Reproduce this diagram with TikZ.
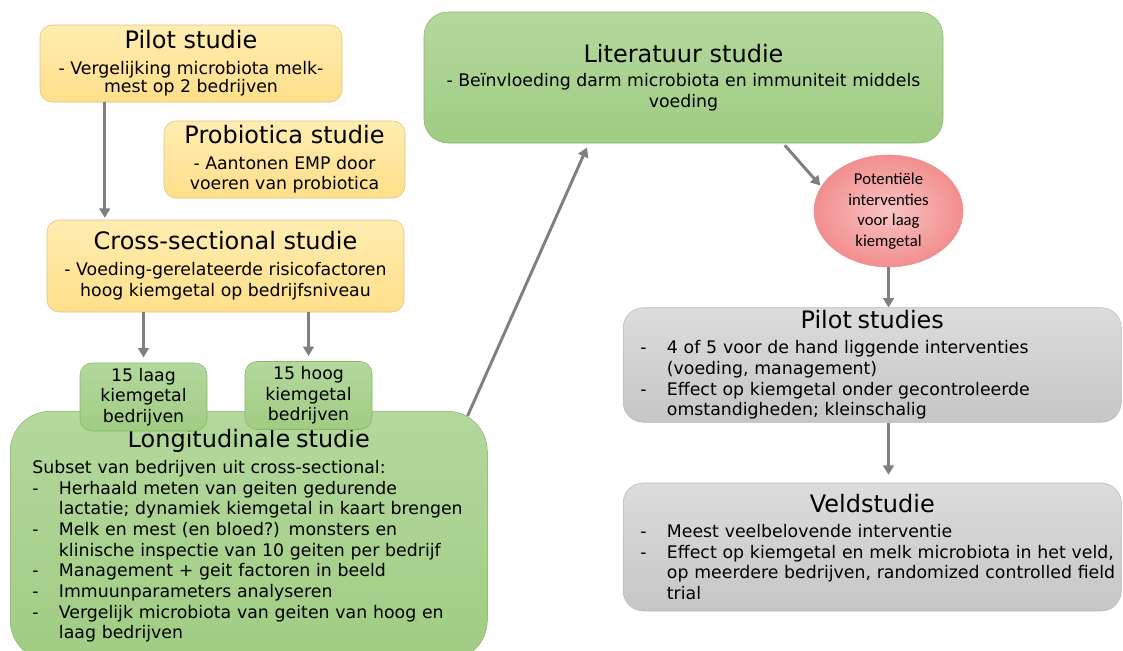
\documentclass[tikz,border=0pt]{standalone}
\usepackage{fontspec}
\setmainfont{DejaVu Sans}
\newfontfamily\calib{Carlito}
\usetikzlibrary{arrows.meta,shapes.geometric}
\definecolor{geelboven}{HTML}{FFEDB0}
\definecolor{geelonder}{HTML}{FFDF8A}
\definecolor{geelrand}{HTML}{DCC185}
\definecolor{groenboven}{HTML}{B4D89D}
\definecolor{groenonder}{HTML}{A0CC83}
\definecolor{groenrand}{HTML}{86B866}
\definecolor{grijsboven}{HTML}{DCDCDC}
\definecolor{grijsonder}{HTML}{C6C6C6}
\definecolor{grijsrand}{HTML}{BABABA}
\definecolor{roodbinnen}{HTML}{FAC4C4}
\definecolor{roodbuiten}{HTML}{F28E8E}
\definecolor{roodrand}{HTML}{E99494}
\definecolor{pijlgrijs}{HTML}{7F7F7F}
\newcommand{\titel}{\fontsize{18}{21}\selectfont}
\newcommand{\tekst}{\fontsize{13}{15.5}\selectfont}
\newcommand{\streep}{\makebox[20pt][l]{-}}
\newcommand{\inspr}{\hspace*{20pt}}
\newcommand{\rij}[1]{\streep\mbox{#1}}
\newcommand{\verv}[1]{\inspr\mbox{#1}}

\begin{document}
\begin{tikzpicture}[x=0.75pt,y=-0.75pt,
    geel/.style={draw=geelrand, top color=geelboven, bottom color=geelonder, rounded corners=9pt, align=center, font=\tekst, inner sep=2pt},
    groen/.style={draw=groenrand, top color=groenboven, bottom color=groenonder, align=center, font=\tekst, inner sep=2pt},
    grijs/.style={draw=grijsrand, top color=grijsboven, bottom color=grijsonder, rounded corners=15pt, align=left, font=\tekst, inner xsep=12.75pt, inner ysep=2pt, text width=348pt, minimum width=373.5pt, anchor=west},
    pijl/.style={draw=pijlgrijs, line width=2.2pt, -{Triangle[length=7pt,width=8pt]}}]
    \path[use as bounding box, clip] (0,0) rectangle (1123,650);

    \node[geel, minimum width=226.5pt, minimum height=57.75pt] (pilot) at (191,63.5)
        {{\titel Pilot studie}\\[4pt] - Vergelijking microbiota melk-\\[-2pt] mest op 2 bedrijven};
    \node[geel, minimum width=180.75pt, minimum height=57.75pt] (probio) at (284.5,159.5)
        {{\titel Probiotica studie}\\[3.5pt] - Aantonen EMP door\\ voeren van probiotica};
    \node[geel, minimum width=267.75pt, minimum height=69pt] (cross) at (225.5,266)
        {{\titel Cross-sectional studie}\\[4pt] - Voeding-gerelateerde risicofactoren\\ hoog kiemgetal op bedrijfsniveau};

    \node[groen, rounded corners=30pt, anchor=north west, align=left, text width=324.75pt, inner xsep=16.5pt, inner ysep=13.5pt] (longi) at (10,411)
        {\makebox[\linewidth]{\titel Longitudinale studie}\\[4pt]
         \mbox{Subset van bedrijven uit cross-sectional:}\\
         \rij{Herhaald meten van geiten gedurende}\\
         \verv{lactatie; dynamiek kiemgetal in kaart brengen}\\
         \rij{Melk en mest (en bloed?) monsters en}\\
         \verv{klinische inspectie van 10 geiten per bedrijf}\\
         \rij{Management + geit factoren in beeld}\\
         \rij{Immuunparameters analyseren}\\
         \rij{Vergelijk microbiota van geiten van hoog en}\\
         \verv{laag bedrijven}};
    \node[groen, rounded corners=9pt, minimum width=95.25pt, minimum height=51pt] (laag) at (143.5,397)
        {15 laag\\ kiemgetal\\ bedrijven};
    \node[groen, rounded corners=9pt, minimum width=95.25pt, minimum height=51pt] (hoog) at (308.5,395.5)
        {15 hoog\\ kiemgetal\\ bedrijven};

    \node[groen, rounded corners=18pt, minimum width=389.25pt, minimum height=98.25pt] (lit) at (683.5,77.5)
        {{\titel Literatuur studie}\\[3pt] - Beïnvloeding darm microbiota en immuniteit middels\\ voeding};
    \node[ellipse, draw=roodrand, inner color=roodbinnen, outer color=roodbuiten, minimum width=111.75pt, minimum height=84pt, inner sep=0pt, align=center, font=\calib\fontsize{12.5}{15.5}\selectfont] (pot) at (888.5,211)
        {Potentiële\\ interventies\\ voor laag\\ kiemgetal};

    \node[grijs, minimum height=84pt] (pils) at (623,365)
        {\makebox[\linewidth]{\titel Pilot studies}\\[3.5pt]
         \rij{4 of 5 voor de hand liggende interventies}\\
         \verv{(voeding, management)}\\
         \rij{Effect op kiemgetal onder gecontroleerde}\\
         \verv{omstandigheden; kleinschalig}};
    \node[grijs, minimum height=96pt] (veld) at (623,547)
        {\makebox[\linewidth]{\titel Veldstudie}\\[3pt]
         \rij{Meest veelbelovende interventie}\\
         \rij{Effect op kiemgetal en melk microbiota in het veld,}\\
         \verv{op meerdere bedrijven, randomized controlled field}\\
         \verv{trial}};

    \draw[pijl, shorten >=1.5pt] ([xshift=48.75pt]pilot.south west) -- ([xshift=43.5pt]cross.north west);
    \draw[pijl, shorten >=4pt] (cross.south -| laag.north) -- (laag.north);
    \draw[pijl, shorten >=4pt] (cross.south -| hoog.north) -- (hoog.north);
    \draw[pijl, shorten >=3.5pt] ([xshift=-15pt,yshift=-3.75pt]longi.north east) -- ([xshift=-71pt]lit.south);
    \draw[pijl, shorten <=2pt, shorten >=1pt] ([xshift=74.6pt]lit.south) -- (pot.160);
    \draw[pijl] (pot.south) -- (pot.south |- pils.north);
    \draw[pijl, shorten >=6pt] (pils.south -| pot.south) -- (pot.south |- veld.north);
\end{tikzpicture}
\end{document}
